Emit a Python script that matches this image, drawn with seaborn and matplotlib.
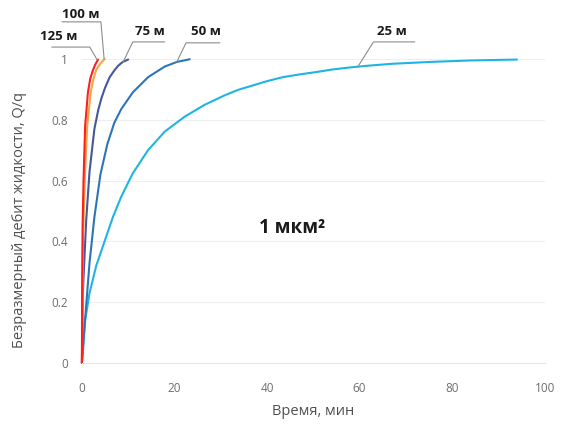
import numpy as np
import pandas as pd
import matplotlib
matplotlib.use("Agg")
import matplotlib.pyplot as plt
import seaborn as sns

# ---- data ----
t_25 = [0, 0.2, 0.7, 1.65, 3.1, 4.9, 6.7, 8.5, 11, 14.3, 17.9, 22.2, 26.5, 30.8, 33.7,
        36.3, 40, 43.4, 47, 50.7, 54, 57.9, 62, 67, 75, 84, 94]
q_25 = [0, 0.03, 0.14, 0.23, 0.32, 0.40, 0.48, 0.547, 0.624, 0.70, 0.761, 0.81, 0.849, 0.88, 0.898,
        0.91, 0.927, 0.94, 0.949, 0.957, 0.965, 0.972, 0.978, 0.984, 0.99, 0.995, 0.998]

t_50 = [0, 0.2, 0.93, 1.65, 2.7, 4.0, 5.5, 7.0, 8.5, 11, 14.3, 17.9, 20.5, 23.3]
q_50 = [0, 0.05, 0.19, 0.33, 0.48, 0.62, 0.72, 0.79, 0.835, 0.89, 0.94, 0.975, 0.99, 0.999]

t_75 = [0, 0.2, 0.93, 1.65, 2.7, 3.5, 4.2, 5.0, 6.0, 7.0, 7.8, 8.8, 10.0]
q_75 = [0, 0.23, 0.47, 0.63, 0.77, 0.83, 0.87, 0.905, 0.94, 0.962, 0.977, 0.99, 0.998]

t_100 = [0, 0.1, 0.25, 0.6, 1.15, 1.9, 2.5, 3.1, 4.0, 4.9]
q_100 = [0, 0.22, 0.42, 0.60, 0.78, 0.89, 0.935, 0.964, 0.985, 1.0]

t_125 = [0, 0.05, 0.15, 0.35, 0.7, 1.3, 1.8, 2.4, 3.0, 3.5]
q_125 = [0, 0.25, 0.45, 0.60, 0.78, 0.89, 0.935, 0.964, 0.985, 0.998]

series_names = ["25 м", "50 м", "75 м", "100 м", "125 м"]
series_t = [t_25, t_50, t_75, t_100, t_125]
series_q = [q_25, q_50, q_75, q_100, q_125]
colors = ["#1fb4e3", "#2e75b6", "#44589a", "#f4a646", "#ff1f1f"]

# label text positions and leader lines (data coords)
label_xy = [(67, 1.089), (26.8, 1.089), (14.7, 1.089), (-0.2, 1.145), (-5.0, 1.074)]
leaders = [
    ([71.9, 63.0, 59.6], [1.056, 1.056, 0.974]),
    ([29.8, 22.5, 20.5], [1.053, 1.053, 0.99]),
    ([17.9, 11.0, 8.9], [1.056, 1.056, 0.99]),
    ([-4.3, 4.1, 4.8], [1.122, 1.122, 1.0]),
    ([-6.5, 1.7, 3.3], [1.039, 1.039, 0.997]),
]

x_ticks = [0, 20, 40, 60, 80, 100]
y_ticks = [0, 0.2, 0.4, 0.6, 0.8, 1.0]
y_ticklabels = ["0", "0.2", "0.4", "0.6", "0.8", "1"]

sns.set_style("white")
plt.rcParams['font.family'] = ['Open Sans', 'DejaVu Sans']

fig = plt.figure(figsize=(5.61, 4.24), dpi=100)
ax = fig.add_axes([0.146, 0.144, 0.825, 0.717])

frames = []
for name, t, q in zip(series_names, series_t, series_q):
    frames.append(pd.DataFrame({"t": t, "q": q, "s": name}))
df = pd.concat(frames, ignore_index=True)

for name, c in zip(series_names, colors):
    sns.lineplot(data=df[df["s"] == name], x="t", y="q", ax=ax, color=c,
                 lw=1.5, sort=False, estimator=None, clip_on=False, legend=False)

for name, (lx, ly), (px, py) in zip(series_names, label_xy, leaders):
    ax.text(lx, ly, name, ha="center", va="center", fontsize=9.5,
            fontweight="bold", color="#1a1a1a", clip_on=False)
    ax.plot(px, py, color="#8c8c8c", lw=0.8, clip_on=False)

ax.text(45.4, 0.444, "1 мкм²", ha="center", va="center", fontsize=13.5,
        fontweight="bold", color="#1a1a1a")

ax.set_xlim(0, 100)
ax.set_ylim(0, 1.0)
ax.set_xticks(x_ticks)
ax.set_xticklabels([str(v) for v in x_ticks])
ax.set_yticks(y_ticks)
ax.set_yticklabels(y_ticklabels)
ax.tick_params(axis="both", length=0, labelsize=8.5, labelcolor="#6e6e6e")
ax.tick_params(axis="x", pad=14)
ax.tick_params(axis="y", pad=10)
ax.grid(axis="y", color="#eeeeee", lw=0.8)
ax.set_axisbelow(True)
for s in ["top", "right", "left"]:
    ax.spines[s].set_visible(False)
ax.spines["bottom"].set_color("#e6e6e6")

ax.set_xlabel("Время, мин", fontsize=10.5, color="#505050", labelpad=6)
ax.set_ylabel("Безразмерный дебит жидкости, Q/q", fontsize=10.5, color="#505050", labelpad=8)
ax.yaxis.set_label_coords(-0.118, 0.47)

fig.savefig("out.png", dpi=100)
